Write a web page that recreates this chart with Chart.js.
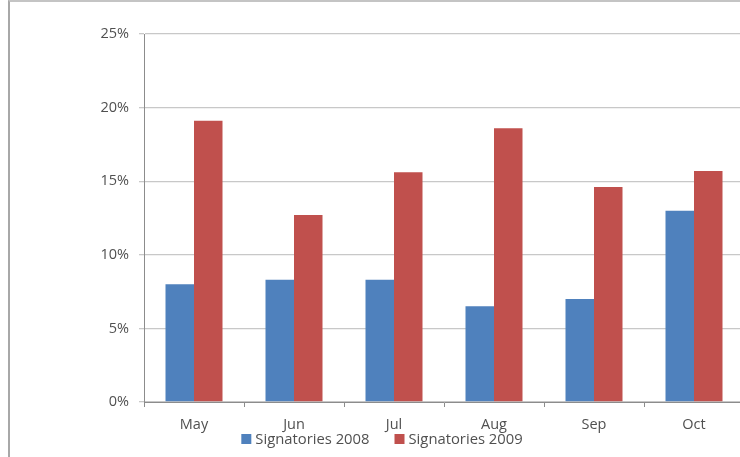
<!DOCTYPE html>
<html>
<head>
<meta charset="utf-8">
<script src="https://cdn.jsdelivr.net/npm/chart.js@4/dist/chart.umd.min.js"></script>
<style>
  html, body { margin: 0; padding: 0; background: #fff; overflow: hidden; width: 740px; height: 457px; }
  #frame { position: absolute; left: 8px; top: 0; width: 760px; height: 470px;
           border-left: 2px solid #a8a8a8; border-top: 2px solid #c4c4c4; }
  #wrap { position: absolute; left: 10px; top: 2px; width: 750px; height: 455px; }
</style>
</head>
<body>
<div id="frame"></div>
<div id="wrap"><canvas id="chart" width="750" height="455"></canvas></div>
<script>
// Monthly share of signatories, 2008 vs 2009 (percent)
const months = ['May', 'Jun', 'Jul', 'Aug', 'Sep', 'Oct'];
const signatories2008 = [8.0, 8.3, 8.3, 6.5, 7.0, 13.0];
const signatories2009 = [19.1, 12.7, 15.6, 18.6, 14.6, 15.7];
const yTicks = [0, 5, 10, 15, 20, 25];

const FONT = 'Open Sans';
const TEXT = '#505050';
const PAD = { left: 10, right: 16, top: 32, bottom: 0 };

// Single-row legend sitting just under the month labels.
const bottomLegend = {
  id: 'bottomLegend',
  afterDraw(chart) {
    const ctx = chart.ctx;
    const box = 10, textGap = 4, itemGap = 25;
    ctx.save();
    ctx.font = '14.8px "' + FONT + '"';
    ctx.textBaseline = 'middle';
    const items = chart.data.datasets.map(ds => ({
      label: ds.label, color: ds.backgroundColor,
      w: box + textGap + ctx.measureText(ds.label).width
    }));
    const total = items.reduce((s, it) => s + it.w, 0) + itemGap * (items.length - 1);
    const centre = (PAD.left + chart.width - PAD.right) / 2;
    const y = chart.chartArea.bottom + 37;
    let x = centre - total / 2;
    items.forEach(it => {
      ctx.fillStyle = it.color;
      ctx.fillRect(x, y - box / 2, box, box);
      ctx.fillStyle = TEXT;
      ctx.fillText(it.label, x + box + textGap, y + 0.5);
      x += it.w + itemGap;
    });
    ctx.restore();
  }
};

new Chart(document.getElementById('chart'), {
  type: 'bar',
  data: {
    labels: months,
    datasets: [
      { label: 'Signatories 2008', data: signatories2008, backgroundColor: '#4F81BD',
        categoryPercentage: 0.57, barPercentage: 1.0 },
      { label: 'Signatories 2009', data: signatories2009, backgroundColor: '#C0504D',
        categoryPercentage: 0.57, barPercentage: 1.0 }
    ]
  },
  plugins: [bottomLegend],
  options: {
    responsive: false,
    animation: false,
    layout: { padding: PAD },
    plugins: {
      tooltip: { enabled: false },
      legend: { display: false }
    },
    scales: {
      x: {
        grid: { display: true, drawOnChartArea: false, drawTicks: true, tickLength: 5,
                color: '#8c8c8c', offset: true },
        border: { display: true, color: '#8c8c8c', width: 1 },
        ticks: { color: TEXT, font: { family: FONT, size: 14.5 }, padding: 9,
                 maxRotation: 0, autoSkip: false },
        afterFit: s => { s.height = 55; }
      },
      y: {
        min: 0, max: 25,
        afterBuildTicks: s => { s.ticks = yTicks.map(v => ({ value: v })); },
        grid: { color: '#c8c8c8', tickLength: 5, lineWidth: 1.3 },
        border: { display: true, color: '#8c8c8c', width: 1 },
        ticks: { color: TEXT, font: { family: FONT, size: 14.5 }, padding: 10,
                 callback: v => v + '%' },
        afterFit: s => { s.width = 124; }
      }
    }
  }
});
</script>
</body>
</html>
